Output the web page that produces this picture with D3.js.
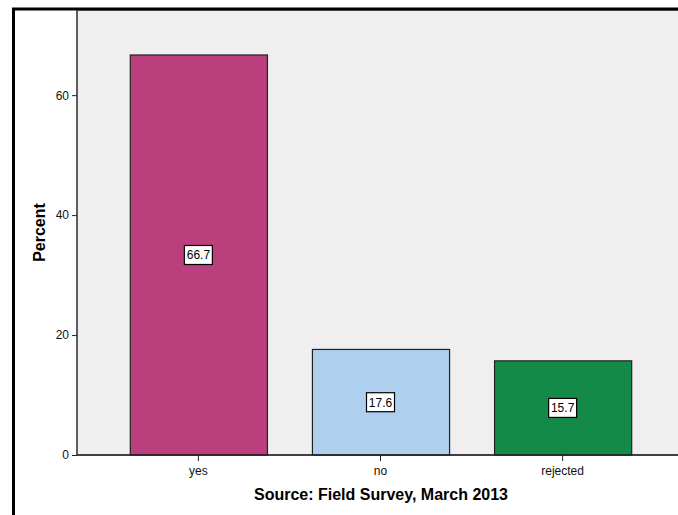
<!DOCTYPE html>
<html>
<head>
<meta charset="utf-8">
<script src="https://cdn.jsdelivr.net/npm/d3@7"></script>
<style>
  body { margin: 0; background: #fff; }
  text { font-family: Arial, "Liberation Sans", sans-serif; }
</style>
</head>
<body>
<div id="chart"></div>
<script>
var categories = ["yes", "no", "rejected"];
var percents = [66.7, 17.6, 15.7];
var barColors = ["#bb3f7c", "#aecfee", "#138a47"];
var yTicks = [0, 20, 40, 60];

var width = 678;
var height = 515;

var svg = d3.select("#chart")
	.append("svg")
	.attr("width", width)
	.attr("height", height);

var plotLeft = 77, plotTop = 10, plotBottom = 455, plotRight = 700;

var x = d3.scaleBand()
	.domain(categories)
	.range([plotLeft, 684])
	.paddingInner(0.247)
	.paddingOuter(0.29);

var y = d3.scaleLinear()
	.domain([0, 74.2])
	.range([plotBottom, plotTop]);

// outer frame
svg.append("line")
	.attr("x1", 13.5).attr("x2", 13.5)
	.attr("y1", 8).attr("y2", height)
	.attr("stroke", "#000").attr("stroke-width", 3);
svg.append("line")
	.attr("x1", 12).attr("x2", width)
	.attr("y1", 9).attr("y2", 9)
	.attr("stroke", "#000").attr("stroke-width", 3);

// plot background
svg.append("rect")
	.attr("x", plotLeft)
	.attr("y", plotTop + 0.5)
	.attr("width", plotRight - plotLeft)
	.attr("height", plotBottom - plotTop - 0.5)
	.attr("fill", "#efefef")
	.attr("stroke", "#444")
	.attr("stroke-width", 1);

// bars
svg.append("g").selectAll("rect")
	.data(categories)
	.enter()
	.append("rect")
	.attr("x", function(d){ return x(d) + 0.5; })
	.attr("y", function(d, i){ return y(percents[i]); })
	.attr("width", x.bandwidth())
	.attr("height", function(d, i){ return y(0) - y(percents[i]); })
	.attr("fill", function(d, i){ return barColors[i]; })
	.attr("stroke", "#222")
	.attr("stroke-width", 1.2);

// value labels
var labels = svg.append("g").selectAll("g")
	.data(categories)
	.enter()
	.append("g")
	.attr("transform", function(d, i){
		return "translate(" + (x(d) + x.bandwidth() / 2) + "," + y(percents[i] / 2) + ")";
	});

labels.append("rect")
	.attr("x", -14).attr("y", -9.5)
	.attr("width", 28).attr("height", 19)
	.attr("fill", "#fff")
	.attr("stroke", "#000")
	.attr("stroke-width", 1.2);

labels.append("text")
	.attr("text-anchor", "middle")
	.attr("dy", "0.36em")
	.attr("font-size", 12)
	.attr("fill", "#000")
	.text(function(d, i){ return percents[i].toFixed(1); });

// axes
var yAxis = svg.append("g")
	.attr("transform", "translate(" + plotLeft + ",0)")
	.call(d3.axisLeft(y).tickValues(yTicks).tickSize(5).tickSizeOuter(0));
yAxis.select(".domain").remove();

var xAxis = svg.append("g")
	.attr("transform", "translate(0," + plotBottom + ")")
	.call(d3.axisBottom(x).tickSize(6).tickSizeOuter(0));
xAxis.select(".domain").remove();

svg.selectAll(".tick text")
	.attr("font-family", "Arial, 'Liberation Sans', sans-serif")
	.attr("font-size", 12)
	.attr("fill", "#111");
svg.selectAll(".tick line").attr("stroke", "#222");
xAxis.selectAll(".tick text").attr("dy", "0.9em");

// axis lines
svg.append("line")
	.attr("x1", plotLeft).attr("x2", width)
	.attr("y1", plotBottom).attr("y2", plotBottom)
	.attr("stroke", "#222").attr("stroke-width", 1.5);
svg.append("line")
	.attr("x1", plotLeft).attr("x2", plotLeft)
	.attr("y1", plotTop).attr("y2", plotBottom)
	.attr("stroke", "#333").attr("stroke-width", 1.2);

// titles
svg.append("text")
	.attr("transform", "translate(45," + ((plotTop + plotBottom) / 2) + ") rotate(-90)")
	.attr("text-anchor", "middle")
	.attr("font-size", 16)
	.attr("font-weight", "bold")
	.text("Percent");

svg.append("text")
	.attr("x", 381)
	.attr("y", 500)
	.attr("text-anchor", "middle")
	.attr("font-size", 16)
	.attr("font-weight", "bold")
	.text("Source: Field Survey, March 2013");
</script>
</body>
</html>
